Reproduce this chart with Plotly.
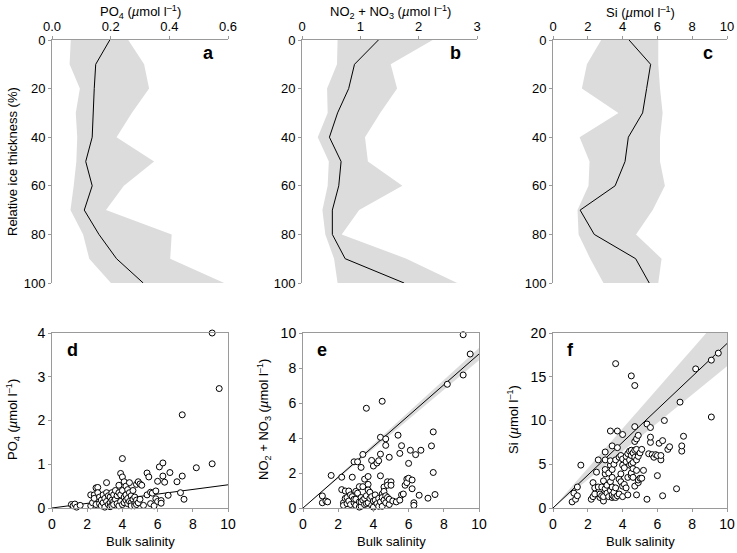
import plotly.graph_objects as go

W, H = 737, 553

# ---------------- Top panels: profiles vs relative ice thickness ----------------
depth = [0, 10, 20, 30, 40, 50, 60, 70, 80, 90, 100]

po4_mean = [0.197, 0.149, 0.144, 0.140, 0.137, 0.115, 0.137, 0.110, 0.160, 0.220, 0.311]
po4_min = [0.064, 0.060, 0.095, 0.081, 0.086, 0.083, 0.074, 0.063, 0.106, 0.127, 0.201]
po4_max = [0.260, 0.314, 0.331, 0.272, 0.220, 0.348, 0.245, 0.184, 0.408, 0.403, 0.587]

nox_mean = [1.31, 0.90, 0.80, 0.61, 0.47, 0.67, 0.63, 0.52, 0.52, 0.74, 1.75]
nox_min = [0.61, 0.60, 0.43, 0.44, 0.27, 0.46, 0.44, 0.35, 0.40, 0.55, 0.61]
nox_max = [2.24, 1.52, 1.63, 1.34, 1.08, 1.13, 1.72, 0.98, 0.68, 1.79, 2.66]

si_mean = [4.37, 5.61, 5.38, 5.15, 4.33, 4.14, 3.57, 1.56, 2.37, 4.75, 5.53]
si_min = [2.77, 1.95, 1.66, 3.76, 1.53, 2.10, 2.04, 1.41, 1.47, 2.14, 2.90]
si_max = [6.05, 6.05, 6.15, 6.30, 6.15, 6.15, 6.43, 5.73, 4.77, 6.24, 6.05]

# ---------------- Bottom panels: vs bulk salinity ----------------
d_sal = [1.1, 1.2, 1.3, 1.4, 1.6,
         2.2, 2.2, 2.3, 2.4, 2.4, 2.5, 2.5, 2.6, 2.6, 2.7, 2.7, 2.8, 2.8, 2.9, 2.9,
         3.0, 3.0, 3.1, 3.1, 3.1, 3.2, 3.2, 3.3, 3.3, 3.3, 3.4, 3.4, 3.4, 3.5, 3.5, 3.5,
         3.6, 3.6, 3.7, 3.7, 3.8, 3.8, 3.8, 3.9, 3.9, 3.9, 4.0, 4.0, 4.0, 4.0, 4.1, 4.1, 4.1,
         4.2, 4.2, 4.2, 4.3, 4.3, 4.3, 4.4, 4.4, 4.4, 4.5, 4.5, 4.5, 4.6, 4.6, 4.7, 4.7, 4.7,
         4.8, 4.8, 4.8, 4.9, 4.9, 5.0, 5.0, 5.1, 5.2, 5.4, 5.4, 5.5, 5.6, 5.6, 5.7, 5.8,
         5.9, 5.9, 6.0, 6.0, 6.1, 6.2, 6.2, 6.3, 6.3, 6.4, 6.6, 6.7, 7.1, 7.3, 7.4, 7.4,
         7.5, 8.2, 9.1, 9.1, 9.5]
d_po4 = [0.08, 0.05, 0.09, 0.02, 0.06,
         0.30, 0.05, 0.12, 0.30, 0.22, 0.46, 0.08, 0.47, 0.35, 0.25, 0.10, 0.18, 0.05, 0.30, 0.12,
         0.22, 0.02, 0.58, 0.35, 0.15, 0.28, 0.08, 0.25, 0.12, 0.03, 0.35, 0.18, 0.05, 0.30, 0.15, 0.08,
         0.40, 0.20, 0.28, 0.10, 0.52, 0.35, 0.05, 0.79, 0.30, 0.15, 1.13, 0.71, 0.40, 0.08, 0.60, 0.25, 0.12,
         0.50, 0.30, 0.18, 0.42, 0.22, 0.10, 0.58, 0.35, 0.15, 0.28, 0.12, 0.05, 0.40, 0.20, 0.25, 0.10, 0.05,
         0.54, 0.18, 0.08, 0.60, 0.12, 0.55, 0.20, 0.52, 0.06, 0.80, 0.30, 0.71, 0.36, 0.10, 0.34, 0.05,
         0.39, 0.21, 0.61, 0.15, 0.94, 0.17, 0.11, 1.03, 0.73, 0.59, 0.29, 0.81, 0.60, 0.35, 2.13, 0.73,
         0.20, 0.92, 4.00, 1.01, 2.73]

e_sal = [1.1, 1.1, 1.3, 1.4, 1.6,
         2.2, 2.2, 2.3, 2.3, 2.4, 2.4, 2.5, 2.5, 2.6, 2.6, 2.7, 2.7, 2.8, 2.8, 2.9, 2.9, 2.9,
         3.0, 3.0, 3.0, 3.1, 3.1, 3.2, 3.2, 3.2, 3.3, 3.3, 3.3, 3.3, 3.4, 3.4, 3.4, 3.5, 3.5, 3.5,
         3.6, 3.6, 3.6, 3.7, 3.7, 3.7, 3.7, 3.8, 3.8, 3.9, 3.9, 3.9, 4.0, 4.0, 4.0, 4.1, 4.1,
         4.2, 4.2, 4.3, 4.3, 4.3, 4.4, 4.4, 4.4, 4.4, 4.5, 4.5, 4.5, 4.5, 4.6, 4.6, 4.6,
         4.7, 4.7, 4.7, 4.7, 4.8, 4.8, 4.8, 4.9, 4.9, 4.9, 5.0, 5.0, 5.1, 5.3, 5.4, 5.5, 5.5,
         5.6, 5.6, 5.7, 5.8, 5.9, 5.9, 6.0, 6.0, 6.1, 6.2, 6.2, 6.3, 6.3, 6.4, 6.6, 6.7,
         7.1, 7.3, 7.4, 7.4, 7.5, 8.2, 9.1, 9.1, 9.5]
e_nox = [0.69, 0.30, 0.40, 0.35, 1.86,
         1.76, 1.05, 0.30, 0.15, 0.97, 0.55, 0.60, 0.25, 0.97, 0.40, 0.20, 0.75, 1.76, 0.65, 2.64, 0.30, 0.50,
         0.50, 0.15, 0.95, 2.64, 0.85, 1.22, 0.35, 0.05, 2.32, 0.60, 0.10, 0.35, 3.06, 1.22, 0.45, 1.65, 0.20, 0.55,
         5.70, 0.70, 0.25, 1.80, 1.35, 1.03, 0.30, 0.55, 0.90, 2.72, 0.65, 0.15, 2.40, 0.40, 0.05, 0.75, 0.45,
         2.57, 0.25, 2.70, 0.55, 0.10, 4.04, 3.08, 1.84, 0.35, 6.10, 0.80, 0.10, 0.60, 1.20, 0.45, 0.95,
         3.95, 3.58, 0.30, 0.70, 1.50, 1.30, 0.60, 2.90, 0.20, 0.50, 1.50, 1.30, 0.40, 0.35, 4.16, 3.12, 0.45,
         3.56, 0.75, 0.80, 1.30, 1.65, 1.45, 2.55, 1.70, 3.30, 1.60, 1.10, 0.30, 0.15, 3.05, 0.73, 3.30,
         0.56, 3.55, 4.35, 2.03, 0.77, 7.07, 9.90, 7.60, 8.80]

f_sal = [1.1, 1.2, 1.3, 1.4, 1.4, 1.6, 2.2, 2.3, 2.3, 2.4, 2.4, 2.5, 2.6, 2.6, 2.7, 2.7, 2.8, 2.8,
         2.9, 2.9, 2.9, 3.0, 3.0, 3.0, 3.0, 3.0, 3.1, 3.1, 3.2, 3.2, 3.3, 3.3, 3.3, 3.3, 3.3,
         3.4, 3.4, 3.4, 3.4, 3.4, 3.4, 3.5, 3.5, 3.5, 3.6, 3.6, 3.6, 3.7, 3.7, 3.7, 3.8, 3.8, 3.8,
         3.9, 3.9, 3.9, 4.0, 4.0, 4.0, 4.0, 4.0, 4.1, 4.1, 4.2, 4.2, 4.2, 4.3, 4.3, 4.3, 4.4, 4.4, 4.4,
         4.5, 4.5, 4.5, 4.5, 4.5, 4.6, 4.6, 4.6, 4.6, 4.7, 4.7, 4.7, 4.7, 4.7, 4.8, 4.8, 4.8, 4.8, 4.8,
         4.9, 4.9, 4.9, 4.9, 5.0, 5.0, 5.1, 5.1, 5.2, 5.4, 5.4, 5.5, 5.6, 5.6, 5.6, 5.7, 5.8, 5.9,
         6.0, 6.0, 6.1, 6.2, 6.2, 6.3, 6.3, 6.4, 6.6, 6.7, 7.1, 7.3, 7.4, 7.4, 7.5, 8.2, 9.1, 9.1, 9.5,
         3.6, 4.5, 4.7]
f_si = [0.7, 1.7, 1.0, 1.4, 2.4, 4.9, 1.0, 2.9, 1.3, 1.6, 2.3, 4.1, 5.5, 2.4, 1.2, 1.6, 1.4, 2.4,
        0.8, 1.3, 3.1, 2.2, 3.9, 4.4, 5.5, 6.4, 2.6, 1.7, 1.3, 4.0, 2.0, 3.0, 4.9, 5.4, 8.8,
        1.2, 1.5, 2.4, 3.5, 4.4, 7.1, 1.3, 1.8, 5.0, 1.2, 2.3, 5.5, 1.4, 6.9, 8.8, 1.6, 3.3, 5.8,
        3.0, 3.9, 6.0, 1.3, 2.5, 4.9, 5.6, 8.4, 2.7, 4.6, 2.3, 5.3, 5.9, 1.5, 3.5, 6.2, 4.9, 6.5, 5.5,
        3.7, 4.0, 5.0, 6.0, 6.6, 3.5, 5.2, 6.3, 4.5, 2.5, 5.8, 6.6, 7.6, 9.3, 1.5, 4.3, 5.5, 6.7, 7.9,
        2.9, 3.2, 5.9, 8.3, 3.4, 6.3, 3.4, 6.7, 4.3, 9.6, 1.0, 6.2, 7.5, 8.1, 9.2, 6.1, 5.8, 6.1,
        3.7, 6.0, 7.4, 5.5, 6.0, 7.7, 1.4, 10.0, 6.7, 7.0, 2.2, 12.1, 6.5, 7.1, 8.2, 15.9, 16.9, 10.4, 17.7,
        16.5, 15.1, 14.0]

# regression slopes (line through origin) and confidence band slopes
fit_x = [0, 10]
d_slope = 0.053
e_slope, e_lo, e_hi = 0.88, 0.845, 0.915
f_slope, f_lo, f_hi = 1.88, 1.62, 2.27

# ---------------- Styling ----------------
FONT = "Liberation Sans, Arial, Helvetica, sans-serif"
AX_GRAY = "#9a9a9a"
BAND = "#dcdcdc"

def px_x(p):
    return p / W

def px_y(p):
    return 1 - p / H

fig = go.Figure()

top_panels = [
    ("x", "y", po4_mean, po4_min, po4_max, (52, 228), [0, 0.6], [0, 0.2, 0.4, 0.6], ["0.0", "0.2", "0.4", "0.6"]),
    ("x2", "y2", nox_mean, nox_min, nox_max, (302, 477), [0, 3], [0, 1, 2, 3], ["0", "1", "2", "3"]),
    ("x3", "y3", si_mean, si_min, si_max, (553, 727), [0, 10], [0, 2, 4, 6, 8, 10], ["0", "2", "4", "6", "8", "10"]),
]
top_y = (40, 283)

for i, (xa, ya, mean, lo, hi, xd, xr, tv, tt) in enumerate(top_panels):
    fig.add_trace(go.Scatter(x=lo + hi[::-1], y=depth + depth[::-1], fill="toself",
                             fillcolor=BAND, line=dict(width=0), mode="lines",
                             xaxis=xa, yaxis=ya, showlegend=False, hoverinfo="skip"))
    fig.add_trace(go.Scatter(x=mean, y=depth, mode="lines", line=dict(color="black", width=1),
                             xaxis=xa, yaxis=ya, showlegend=False))
    xkey = "xaxis" if i == 0 else f"xaxis{i+1}"
    ykey = "yaxis" if i == 0 else f"yaxis{i+1}"
    fig.layout[xkey] = dict(domain=[px_x(xd[0]), px_x(xd[1])], range=xr, side="top",
                           anchor=ya, tickvals=tv, ticktext=tt, showgrid=False, zeroline=False,
                           showline=True, linecolor=AX_GRAY, linewidth=1, ticks="outside",
                           ticklen=3, tickcolor=AX_GRAY, automargin=False,
                           tickfont=dict(size=13, color="black"))
    fig.layout[ykey] = dict(domain=[px_y(top_y[1]), px_y(top_y[0])], range=[100, 0],
                           anchor=xa, tickvals=[0, 20, 40, 60, 80, 100], showgrid=False, zeroline=False,
                           showline=True, linecolor=AX_GRAY, linewidth=1, ticks="outside",
                           ticklen=3, tickcolor=AX_GRAY, automargin=False,
                           tickfont=dict(size=13, color="black"))

bot_panels = [
    ("x4", "y4", d_sal, d_po4, (52, 228), [0, 4], [0, 1, 2, 3, 4], None),
    ("x5", "y5", e_sal, e_nox, (303, 479), [0, 10], [0, 2, 4, 6, 8, 10], (e_slope, e_lo, e_hi)),
    ("x6", "y6", f_sal, f_si, (553, 727), [0, 20], [0, 5, 10, 15, 20], (f_slope, f_lo, f_hi)),
]
bot_y = (333, 508)

for j, (xa, ya, sx, sy, xd, yr, ytv, fit) in enumerate(bot_panels):
    if fit is not None:
        s, lo_s, hi_s = fit
        fig.add_trace(go.Scatter(x=fit_x + fit_x[::-1],
                                 y=[lo_s * v for v in fit_x] + [hi_s * v for v in fit_x[::-1]],
                                 fill="toself", fillcolor=BAND, line=dict(width=0), mode="lines",
                                 xaxis=xa, yaxis=ya, showlegend=False, hoverinfo="skip"))
    else:
        s = d_slope
    fig.add_trace(go.Scatter(x=fit_x, y=[s * v for v in fit_x], mode="lines",
                             line=dict(color="black", width=1), xaxis=xa, yaxis=ya, showlegend=False))
    fig.add_trace(go.Scatter(x=sx, y=sy, mode="markers",
                             marker=dict(symbol="circle", size=6, color="white",
                                         line=dict(color="black", width=1)),
                             cliponaxis=False, xaxis=xa, yaxis=ya, showlegend=False))
    k = j + 4
    fig.layout[f"xaxis{k}"] = dict(domain=[px_x(xd[0]), px_x(xd[1])], range=[0, 10], anchor=ya,
                                   tickvals=[0, 2, 4, 6, 8, 10], showgrid=False, zeroline=False,
                                   showline=True, mirror=True, linecolor=AX_GRAY, linewidth=1,
                                   ticks="outside", ticklen=3, tickcolor=AX_GRAY, automargin=False,
                                   tickfont=dict(size=14, color="black"))
    fig.layout[f"yaxis{k}"] = dict(domain=[px_y(bot_y[1]), px_y(bot_y[0])], range=yr, anchor=xa,
                                   tickvals=ytv, showgrid=False, zeroline=False,
                                   showline=True, mirror=True, linecolor=AX_GRAY, linewidth=1,
                                   ticks="outside", ticklen=3, tickcolor=AX_GRAY, automargin=False,
                                   tickfont=dict(size=14, color="black"))

ann = []
def text(x, y, t, size=13, bold=False, angle=0, xanchor="center"):
    ann.append(dict(x=px_x(x), y=px_y(y), xref="paper", yref="paper", text=(f"<b>{t}</b>" if bold else t),
                    showarrow=False, textangle=angle, xanchor=xanchor, yanchor="middle",
                    font=dict(size=size, color="black", family=FONT)))

unit = "(<i>µ</i>mol l<sup>–1</sup>)"
text(140, 12, f"PO<sub>4</sub> {unit}")
text(390, 12, f"NO<sub>2</sub> + NO<sub>3</sub> {unit}")
text(640, 12, f"Si {unit}")
text(12, 162, "Relative ice thickness (%)", angle=-90)

text(208, 53, "a", size=18, bold=True)
text(456, 53, "b", size=18, bold=True)
text(708, 53, "c", size=18, bold=True)
text(72, 350, "d", size=18, bold=True)
text(322, 350, "e", size=18, bold=True)
text(570, 350, "f", size=18, bold=True)

text(140, 541, "Bulk salinity")
text(391, 541, "Bulk salinity")
text(640, 541, "Bulk salinity")
text(13, 420, f"PO<sub>4</sub> {unit}", angle=-90)
text(264, 420, f"NO<sub>2</sub> + NO<sub>3</sub> {unit}", angle=-90)
text(513, 420, f"Si {unit}", angle=-90)

fig.update_layout(width=W, height=H, margin=dict(l=0, r=0, t=0, b=0),
                  paper_bgcolor="white", plot_bgcolor="white",
                  font=dict(family=FONT, size=13, color="black"),
                  annotations=ann, showlegend=False)

# remove the browser's default page margin so the figure sits at the window origin
fig.write_html("out.html", config={"displayModeBar": False},
               post_script="document.body.style.margin='0';document.body.style.overflow='hidden';")
